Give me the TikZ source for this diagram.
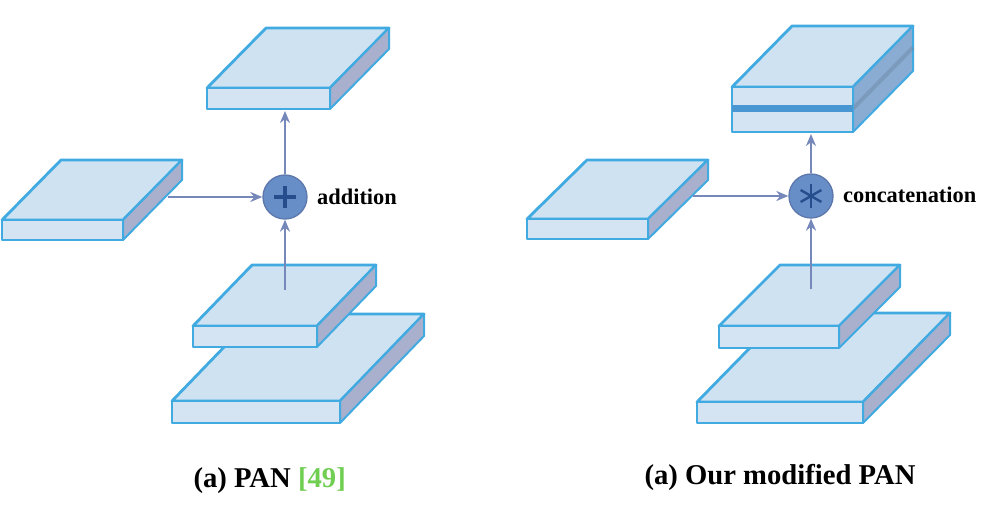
\documentclass[tikz,border=0pt]{standalone}
\usepackage{fontspec}
\setmainfont{Liberation Serif}
\usetikzlibrary{arrows.meta}
\definecolor{edgeblue}{RGB}{64, 170, 225}
\definecolor{topblue}{RGB}{206, 226, 242}
\definecolor{frontblue}{RGB}{212, 228, 243}
\definecolor{sidegray}{RGB}{168, 176, 206}
\definecolor{sideblue}{RGB}{138, 172, 210}
\definecolor{bandblue}{RGB}{72, 150, 210}
\definecolor{opfill}{RGB}{104, 142, 200}
\definecolor{opline}{RGB}{92, 120, 172}
\definecolor{opsign}{RGB}{38, 78, 140}
\definecolor{connblue}{RGB}{118, 136, 186}
\definecolor{citegreen}{RGB}{112, 206, 82}
\tikzset{every picture/.style={line width=0.75pt}}
\tikzset{
  topface/.style={draw=edgeblue, line width=2.1pt, line join=round, fill=topblue},
  frontface/.style={draw=edgeblue, line width=2.1pt, line join=round, fill=frontblue},
  sideface/.style={draw=edgeblue, line width=1.5pt, line join=round, fill=sidegray},
  opnode/.style={circle, draw=opline, line width=1pt, fill=opfill, minimum size=33pt, inner sep=0pt},
  conn/.style={draw=connblue, line width=2pt, -{Stealth[length=9pt,width=7.5pt]}},
  oplabel/.style={anchor=west, inner sep=0.75pt, font=\fontsize{16.8}{18}\selectfont\bfseries},
  caption/.style={anchor=base west, inner sep=0.75pt, font=\fontsize{21.5}{24}\selectfont\bfseries}
}

\begin{document}
\begin{tikzpicture}[x=0.75pt,y=0.75pt,yscale=-1,xscale=1]
\useasboundingbox (0,0) rectangle (1000,514);

%%%%%%%%%%%%%%%% (a) PAN %%%%%%%%%%%%%%%%
%Shape: output slab
\draw [topface] (207,88) -- (330,88) -- (389,28) -- (266,28) -- cycle ;
\draw [sideface] (330,88) -- (389,28) -- (389,49) -- (330,109) -- cycle ;
\draw [frontface] (207,88) -- (330,88) -- (330,109) -- (207,109) -- cycle ;
%Shape: lateral slab
\draw [topface] (2,220) -- (123,220) -- (182,160) -- (61,160) -- cycle ;
\draw [sideface] (123,220) -- (182,160) -- (182,180) -- (123,240) -- cycle ;
\draw [frontface] (2,220) -- (123,220) -- (123,240) -- (2,240) -- cycle ;
%Shape: large bottom slab
\draw [topface] (172,401) -- (340,401) -- (424,314) -- (256,314) -- cycle ;
\draw [sideface] (340,401) -- (424,314) -- (424,336) -- (340,423) -- cycle ;
\draw [frontface] (172,401) -- (340,401) -- (340,423) -- (172,423) -- cycle ;
%Shape: small bottom slab
\draw [topface] (193,326) -- (317,326) -- (376,265) -- (252,265) -- cycle ;
\draw [sideface] (317,326) -- (376,265) -- (376,286) -- (317,347) -- cycle ;
\draw [frontface] (193,326) -- (317,326) -- (317,347) -- (193,347) -- cycle ;

%Operator: addition
\node [opnode] (add) at (285,197) {};
\draw [opsign, line width=2.4pt] ([xshift=-8.5pt]add.center) -- ([xshift=8.5pt]add.center) ([yshift=-8.5pt]add.center) -- ([yshift=8.5pt]add.center) ;
\coordinate (latA) at (168,197) ;
\coordinate (lowA) at (285,290) ;
\coordinate (outA) at (285,111) ;
\draw [conn] (latA) -- (add) ;
\draw [conn] (lowA) -- (add) ;
\draw [conn] (add) -- (outA) ;

% Text Node
\node [oplabel] (addlbl) at (add.east) [xshift=6pt] {addition};
% Text Node
\node [caption] (capA) at (192,487) {(a) PAN \textcolor{citegreen}{[49]}};

%%%%%%%%%%%%%%%% (a) Our modified PAN %%%%%%%%%%%%%%%%
%Shape: concatenated output slab
\draw [topface] (732,87) -- (853,87) -- (913,26) -- (792,26) -- cycle ;
\draw [sideface, fill=sideblue] (853,87) -- (913,26) -- (913,71) -- (853,132) -- cycle ;
\draw [draw=sideblue!80!black, line width=3pt, opacity=0.5] (853,108.5) -- (913,47.5) ;
\draw [frontface] (732,87) -- (853,87) -- (853,132) -- (732,132) -- cycle ;
\draw [draw=bandblue, line width=5pt] (732,108.5) -- (853,108.5) ;
%Shape: lateral slab
\draw [topface] (527,219) -- (648,219) -- (708,160) -- (587,160) -- cycle ;
\draw [sideface] (648,219) -- (708,160) -- (708,180) -- (648,239) -- cycle ;
\draw [frontface] (527,219) -- (648,219) -- (648,239) -- (527,239) -- cycle ;
%Shape: large bottom slab
\draw [topface] (697,402) -- (863,402) -- (950,313) -- (784,313) -- cycle ;
\draw [sideface] (863,402) -- (950,313) -- (950,335) -- (863,423) -- cycle ;
\draw [frontface] (697,402) -- (863,402) -- (863,423) -- (697,423) -- cycle ;
%Shape: small bottom slab
\draw [topface] (719,326) -- (839,326) -- (900,265) -- (780,265) -- cycle ;
\draw [sideface] (839,326) -- (900,265) -- (900,287) -- (839,348) -- cycle ;
\draw [frontface] (719,326) -- (839,326) -- (839,348) -- (719,348) -- cycle ;

%Operator: concatenation
\node [opnode] (cat) at (811,196) {};
\foreach \ang in {90,30,150}
  \draw [opsign, line width=1.8pt] (cat.center) ++(\ang:9pt) -- ++(\ang+180:18pt) ;
\coordinate (latB) at (693,196) ;
\coordinate (lowB) at (811,289) ;
\coordinate (outB) at (811,134) ;
\draw [conn] (latB) -- (cat) ;
\draw [conn] (lowB) -- (cat) ;
\draw [conn] (cat) -- (outB) ;

% Text Node
\node [oplabel] (catlbl) at (cat.east) [xshift=6pt, yshift=1pt] {concatenation};
% Text Node
\node [caption] (capB) at (643,484) {(a) Our modified PAN};

\end{tikzpicture}
\end{document}
